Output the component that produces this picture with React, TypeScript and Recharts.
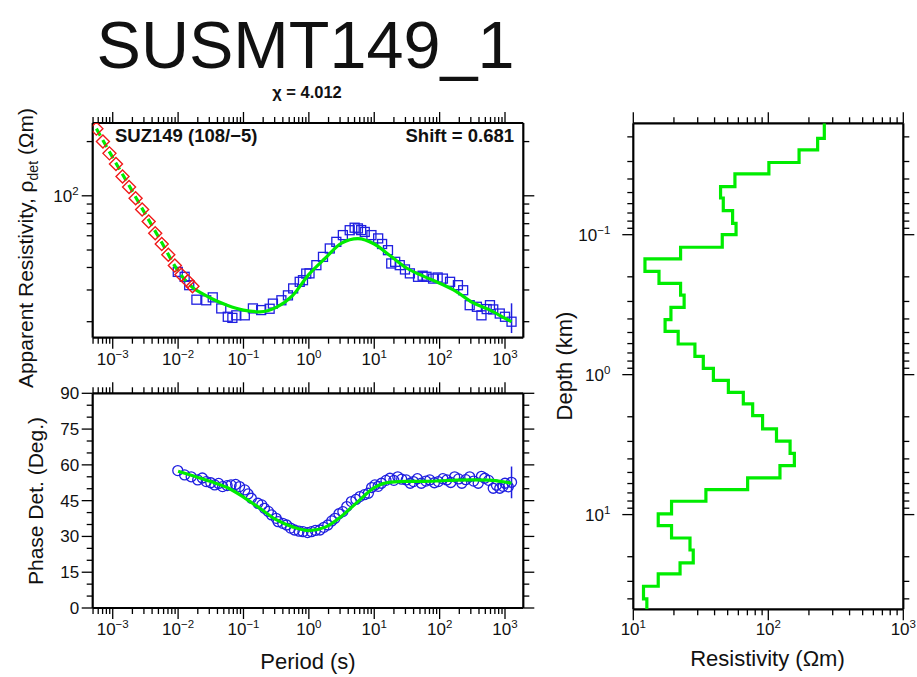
import React from "react";
import { ScatterChart, Scatter, XAxis, YAxis, ErrorBar } from "recharts";

const FONT = "'Liberation Sans', Arial, Helvetica, sans-serif";
const W = 917;
const H = 677;
const GREEN = "#00ec00";
const BLUE = "#1f1fe0";
const RED = "#f01a1a";
const MAJOR = 11;
const MINOR = 6;

// ---- axis ranges / tick labels ----
const periodDomain = [0.000494, 1905];
const periodDecades = [1e-4, 1e-3, 1e-2, 1e-1, 1, 10, 100, 1000];
const rhoDomain = [16.3, 253.6];
const rhoDecades = [10, 100];
const phaseDomain = [0, 90];
const phaseTicks = [0, 5, 10, 15, 20, 25, 30, 35, 40, 45, 50, 55, 60, 65, 70, 75, 80, 85, 90];
const resDomain = [10, 1000];
const resDecades = [10, 100, 1000];
const depthDomain = [0.016, 47.5];
const depthDecades = [0.01, 0.1, 1, 10];
const minorSteps = [1, 2, 3, 4, 5, 6, 7, 8, 9];

// ---- apparent resistivity: model response (log10 period, ohm-m) ----
const rhoFitLogT = [-3.25, -3.0, -2.75, -2.5, -2.25, -2.0, -1.75, -1.5, -1.25, -1.0, -0.75, -0.5, -0.25, 0, 0.25, 0.5, 0.75, 1.0, 1.25, 1.5, 1.75, 2.0, 2.25, 2.5, 2.75, 3.0, 3.1];
const rhoFit = [236, 163, 114, 79, 55, 38.2, 30.3, 27, 24.7, 23.2, 22.7, 24, 27.9, 36.6, 45, 54.6, 57.8, 54, 46.3, 39.6, 35.8, 32.7, 29.5, 25.6, 23.4, 20.9, 20];

// extrapolated short-period points (red diamonds)
const rhoExtLogT = [-3.25, -3.15, -3.05, -2.95, -2.85, -2.75, -2.65, -2.55, -2.45, -2.35, -2.25, -2.15, -2.05, -1.95, -1.85, -1.78];
const rhoExt = [236, 200, 172, 150, 128, 112, 97, 84, 72, 62, 54, 47, 41, 36.5, 33.5, 31.5];

// observed (blue squares)
const rhoObsLogT = [-2.005, -1.9, -1.83, -1.72, -1.57, -1.47, -1.34, -1.24, -1.17, -1.11, -0.98, -0.856, -0.73, -0.6, -0.55, -0.42, -0.32, -0.24, -0.14, -0.09, -0.04, 0.01, 0.115, 0.216, 0.32, 0.42, 0.52, 0.625, 0.7, 0.75, 0.8, 0.855, 0.957, 1.06, 1.12, 1.21, 1.26, 1.32, 1.39, 1.47, 1.545, 1.67, 1.74, 1.8, 1.9, 1.97, 2.05, 2.16, 2.28, 2.36, 2.46, 2.57, 2.64, 2.72, 2.77, 2.82, 2.92, 3.0, 3.1];
const rhoObs = [37.8, 35.5, 31.9, 26.5, 26.3, 27.3, 23.7, 21.3, 21.0, 21.7, 21.7, 23.7, 23.2, 23.6, 25.2, 26.3, 28, 30.6, 33.3, 34, 37, 37.1, 41.2, 45.8, 51, 55.5, 60.5, 64.4, 66.5, 65.9, 64.5, 63, 60.5, 58, 54, 49.9, 42.1, 43, 41.2, 39, 37.1, 35.5, 36, 35.5, 34.7, 35.2, 34.7, 33.3, 31.9, 29.9, 24.7, 24.2, 21.7, 23.5, 24.7, 23.4, 22.2, 21.3, 20];
const rhoLastErr = [2.7, 5.3];

// ---- phase ----
const phaseFitLogT = [-2.0, -1.75, -1.5, -1.25, -1.0, -0.75, -0.5, -0.25, 0, 0.25, 0.5, 0.75, 1.0, 1.25, 1.5, 1.75, 2.0, 2.25, 2.5, 2.75, 3.0, 3.1];
const phaseFit = [57.3, 55.2, 53, 50.5, 46.5, 41.8, 37, 34, 32.4, 33.9, 38.5, 44.6, 50.5, 52.8, 53.1, 53.1, 53.3, 53.6, 53.7, 53.6, 52.8, 52.3];

const phaseObsLogT = [-2.005, -1.9, -1.8, -1.7, -1.63, -1.57, -1.5, -1.44, -1.38, -1.32, -1.25, -1.19, -1.12, -1.06, -0.98, -0.93, -0.88, -0.78, -0.72, -0.68, -0.62, -0.57, -0.5, -0.47, -0.4, -0.34, -0.28, -0.22, -0.15, -0.09, -0.02, 0.04, 0.1, 0.17, 0.23, 0.29, 0.35, 0.4, 0.46, 0.52, 0.58, 0.65, 0.72, 0.78, 0.85, 0.91, 0.96, 1.01, 1.06, 1.11, 1.18, 1.24, 1.3, 1.36, 1.42, 1.49, 1.55, 1.6, 1.66, 1.72, 1.79, 1.85, 1.92, 1.98, 2.05, 2.11, 2.17, 2.23, 2.29, 2.34, 2.4, 2.46, 2.52, 2.59, 2.64, 2.69, 2.75, 2.82, 2.87, 2.92, 2.97, 3.0, 3.05, 3.1];
const phaseObs = [57.6, 55.8, 55, 53.7, 54.5, 53, 52.5, 51.6, 52.2, 50.9, 51.3, 51.6, 51.8, 50.9, 49.5, 47.8, 46, 43.9, 43.2, 41.8, 40.5, 39, 37.6, 36.2, 35.5, 34.8, 33.5, 32.7, 32.2, 32, 31.6, 32, 32.5, 32.7, 33.8, 34.8, 36.5, 37.6, 39.5, 40.4, 42.5, 44.6, 45.5, 46.7, 47.5, 48.1, 50.5, 51.6, 51, 52.3, 53.5, 54.4, 53.5, 55, 54, 53.7, 52.3, 53, 54.2, 52.3, 53.2, 53.7, 52.5, 53, 54.2, 53.7, 52.6, 55, 54.1, 52.3, 53.8, 55, 53.2, 52.3, 55.2, 54.4, 53.5, 50.2, 51.5, 50.2, 51, 52.3, 50.8, 52.7];
const phaseLastErr = [6.7, 6.6];

// ---- 1D model: layer resistivity (ohm-m) and layer boundaries (km) ----
const modelRho = [260, 232, 169, 101, 56.6, 44.3, 46.4, 54.4, 57.7, 45.6, 22.4, 12.2, 15.5, 22.4, 23.8, 19.0, 17.2, 21.5, 28.6, 33.0, 39.2, 50.6, 65.3, 76.6, 90.7, 115, 145, 156, 122, 70.3, 34.5, 19.2, 15.3, 19.2, 26.3, 27.8, 22.2, 15.3, 11.9, 12.6];
const modelBounds = [0.0205, 0.0248, 0.0305, 0.0368, 0.0454, 0.0547, 0.0674, 0.083, 0.1, 0.123, 0.149, 0.183, 0.223, 0.27, 0.331, 0.405, 0.491, 0.604, 0.74, 0.902, 1.1, 1.34, 1.62, 1.96, 2.44, 2.99, 3.65, 4.47, 5.47, 6.63, 8.03, 9.88, 12.0, 14.7, 17.9, 22.1, 26.5, 32.5, 40.0];

// ---- build point tables ----
const pts = (logT: number[], vals: number[]) => logT.map((t, i) => ({ x: Math.pow(10, t), y: vals[i] }));

const rhoFitDashed = pts(rhoFitLogT, rhoFit).filter((_, i) => rhoFitLogT[i] <= -1.75);
const rhoFitSolid = pts(rhoFitLogT, rhoFit).filter((_, i) => rhoFitLogT[i] >= -1.75);
const rhoExtPts = pts(rhoExtLogT, rhoExt);
const rhoObsPts = pts(rhoObsLogT, rhoObs);
const rhoErrPts = [{ ...rhoObsPts[rhoObsPts.length - 1], err: rhoLastErr }];

const phaseFitPts = pts(phaseFitLogT, phaseFit);
const phaseObsPts = pts(phaseObsLogT, phaseObs);
const phaseErrPts = [{ ...phaseObsPts[phaseObsPts.length - 1], err: phaseLastErr }];

const modelPts: { x: number; y: number }[] = [];
modelRho.forEach((r, i) => {
  const top = i === 0 ? depthDomain[0] : modelBounds[i - 1];
  const bot = i === modelRho.length - 1 ? depthDomain[1] : modelBounds[i];
  modelPts.push({ x: r, y: top }, { x: r, y: bot });
});

function logTicks(decades: number[], dom: number[]) {
  const out: number[] = [];
  decades.forEach((d) =>
    minorSteps.forEach((m) => {
      const v = +(d * m).toPrecision(6);
      if (v >= dom[0] * 0.999 && v <= dom[1] * 1.001) out.push(v);
    })
  );
  return out;
}

const periodTicks = logTicks(periodDecades, periodDomain);
const rhoTicks = logTicks(rhoDecades, rhoDomain);
const resTicks = logTicks(resDecades, resDomain);
const depthTicks = logTicks(depthDecades, depthDomain);

type Side = "top" | "bottom" | "left" | "right";
const dirs: Record<Side, [number, number]> = { top: [0, -1], bottom: [0, 1], left: [-1, 0], right: [1, 0] };
const expText = (e: number) => (e < 0 ? "\u2212" + Math.abs(e) : String(e));

function PowLabel({ x, y, e, anchor }: { x: number; y: number; e: number; anchor: string }) {
  return (
    <text x={x} y={y} textAnchor={anchor} fontFamily={FONT} fontSize={17} fill="#111">
      10<tspan dy={-7} fontSize={11.5}>{expText(e)}</tspan>
    </text>
  );
}

// custom tick: draws the outward tick mark and (for labelled sides) the label
function logTick(side: Side, labelOff = 0) {
  return (props: any) => {
    const { x, y, payload } = props;
    const lg = Math.log10(payload.value);
    const e = Math.round(lg);
    const major = Math.abs(lg - e) < 1e-6;
    const len = major ? MAJOR : MINOR;
    const [dx, dy] = dirs[side];
    return (
      <g>
        <line x1={x} y1={y} x2={x + dx * len} y2={y + dy * len} stroke="#000" strokeWidth={1.3} />
        {major && side === "bottom" && <PowLabel x={x} y={y + labelOff} e={e} anchor="middle" />}
        {major && side === "left" && <PowLabel x={x - labelOff} y={y + 6} e={e} anchor="end" />}
      </g>
    );
  };
}

function phaseTick(side: Side) {
  return (props: any) => {
    const { x, y, payload } = props;
    const v = payload.value;
    const major = v % 15 === 0;
    const len = major ? MAJOR : MINOR;
    const [dx, dy] = dirs[side];
    return (
      <g>
        <line x1={x} y1={y} x2={x + dx * len} y2={y + dy * len} stroke="#000" strokeWidth={1.3} />
        {major && side === "left" && (
          <text x={x - 13.5} y={y + 6} textAnchor="end" fontFamily={FONT} fontSize={17} fill="#111">
            {v}
          </text>
        )}
      </g>
    );
  };
}

const frame = { stroke: "#000", strokeWidth: 2.2 };
const noShape = () => <g />;

const Diamond = (p: any) => (
  <path
    d={`M${p.cx},${p.cy - 6.5}L${p.cx + 6.5},${p.cy}L${p.cx},${p.cy + 6.5}L${p.cx - 6.5},${p.cy}Z`}
    fill="none"
    stroke={RED}
    strokeWidth={1.4}
  />
);
const Square = (p: any) => (
  <rect x={p.cx - 4.5} y={p.cy - 4.5} width={9} height={9} fill="none" stroke={BLUE} strokeWidth={1.3} />
);
const Ring = (p: any) => <circle cx={p.cx} cy={p.cy} r={5} fill="none" stroke={BLUE} strokeWidth={1.3} />;

const layer: React.CSSProperties = { position: "absolute", left: 0, top: 0 };

function RhoChart() {
  return (
    <div style={layer}>
      <ScatterChart width={W} height={H} margin={{ left: 82.7, right: 383.7, top: 113, bottom: 329.3 }}>
        <XAxis xAxisId="b" orientation="bottom" type="number" dataKey="x" scale="log" domain={periodDomain} allowDataOverflow ticks={periodTicks} interval={0} height={10} tickSize={0} tickMargin={0} axisLine={frame} tickLine={false} tick={logTick("bottom", 27)} />
        <XAxis xAxisId="t" orientation="top" type="number" dataKey="x" scale="log" domain={periodDomain} allowDataOverflow ticks={periodTicks} interval={0} height={10} tickSize={0} tickMargin={0} axisLine={frame} tickLine={false} tick={logTick("top")} />
        <YAxis yAxisId="l" orientation="left" type="number" dataKey="y" scale="log" domain={rhoDomain} allowDataOverflow ticks={rhoTicks} interval={0} width={10} tickSize={0} tickMargin={0} axisLine={frame} tickLine={false} tick={logTick("left", 14)} />
        <YAxis yAxisId="r" orientation="right" type="number" dataKey="y" scale="log" domain={rhoDomain} allowDataOverflow ticks={rhoTicks} interval={0} width={10} tickSize={0} tickMargin={0} axisLine={frame} tickLine={false} tick={logTick("right")} />
        <Scatter xAxisId="b" yAxisId="l" data={rhoObsPts} shape={Square} isAnimationActive={false} />
        <Scatter xAxisId="b" yAxisId="l" data={rhoErrPts} shape={noShape} isAnimationActive={false}>
          <ErrorBar dataKey="err" direction="y" width={0} stroke={BLUE} strokeWidth={1.5} isAnimationActive={false} />
        </Scatter>
        <Scatter xAxisId="b" yAxisId="l" data={rhoFitSolid} shape={noShape} line={{ stroke: GREEN, strokeWidth: 3.2 }} lineJointType="monotoneX" isAnimationActive={false} />
        <Scatter xAxisId="b" yAxisId="l" data={rhoFitDashed} shape={noShape} line={{ stroke: GREEN, strokeWidth: 3.2, strokeDasharray: "8 5" }} lineJointType="monotoneX" isAnimationActive={false} />
        <Scatter xAxisId="b" yAxisId="l" data={rhoExtPts} shape={Diamond} isAnimationActive={false} />
      </ScatterChart>
    </div>
  );
}

function PhaseChart() {
  return (
    <div style={layer}>
      <ScatterChart width={W} height={H} margin={{ left: 82.7, right: 383.7, top: 383.3, bottom: 59 }}>
        <XAxis xAxisId="b" orientation="bottom" type="number" dataKey="x" scale="log" domain={periodDomain} allowDataOverflow ticks={periodTicks} interval={0} height={10} tickSize={0} tickMargin={0} axisLine={frame} tickLine={false} tick={logTick("bottom", 27)} />
        <XAxis xAxisId="t" orientation="top" type="number" dataKey="x" scale="log" domain={periodDomain} allowDataOverflow ticks={periodTicks} interval={0} height={10} tickSize={0} tickMargin={0} axisLine={frame} tickLine={false} tick={logTick("top")} />
        <YAxis yAxisId="l" orientation="left" type="number" dataKey="y" domain={phaseDomain} allowDataOverflow ticks={phaseTicks} interval={0} width={10} tickSize={0} tickMargin={0} axisLine={frame} tickLine={false} tick={phaseTick("left")} />
        <YAxis yAxisId="r" orientation="right" type="number" dataKey="y" domain={phaseDomain} allowDataOverflow ticks={phaseTicks} interval={0} width={10} tickSize={0} tickMargin={0} axisLine={frame} tickLine={false} tick={phaseTick("right")} />
        <Scatter xAxisId="b" yAxisId="l" data={phaseObsPts} shape={Ring} isAnimationActive={false} />
        <Scatter xAxisId="b" yAxisId="l" data={phaseErrPts} shape={noShape} isAnimationActive={false}>
          <ErrorBar dataKey="err" direction="y" width={0} stroke={BLUE} strokeWidth={1.5} isAnimationActive={false} />
        </Scatter>
        <Scatter xAxisId="b" yAxisId="l" data={phaseFitPts} shape={noShape} line={{ stroke: GREEN, strokeWidth: 3.2 }} lineJointType="monotoneX" isAnimationActive={false} />
      </ScatterChart>
    </div>
  );
}

function ModelChart() {
  return (
    <div style={layer}>
      <ScatterChart width={W} height={H} margin={{ left: 623.3, right: 3.7, top: 113.3, bottom: 57.7 }}>
        <XAxis xAxisId="b" orientation="bottom" type="number" dataKey="x" scale="log" domain={resDomain} allowDataOverflow ticks={resTicks} interval={0} height={10} tickSize={0} tickMargin={0} axisLine={frame} tickLine={false} tick={logTick("bottom", 26)} />
        <XAxis xAxisId="t" orientation="top" type="number" dataKey="x" scale="log" domain={resDomain} allowDataOverflow ticks={resTicks} interval={0} height={10} tickSize={0} tickMargin={0} axisLine={frame} tickLine={false} tick={logTick("top")} />
        <YAxis yAxisId="l" orientation="left" type="number" dataKey="y" scale="log" reversed domain={depthDomain} allowDataOverflow ticks={depthTicks} interval={0} width={10} tickSize={0} tickMargin={0} axisLine={frame} tickLine={false} tick={logTick("left", 23)} />
        <YAxis yAxisId="r" orientation="right" type="number" dataKey="y" scale="log" reversed domain={depthDomain} allowDataOverflow ticks={depthTicks} interval={0} width={10} tickSize={0} tickMargin={0} axisLine={frame} tickLine={false} tick={logTick("right")} />
        <Scatter xAxisId="b" yAxisId="l" data={modelPts} shape={noShape} line={{ stroke: GREEN, strokeWidth: 3.2 }} isAnimationActive={false} />
      </ScatterChart>
    </div>
  );
}

function Labels() {
  return (
    <svg width={W} height={H} style={layer} fontFamily={FONT} fill="#111">
      <text x={96.5} y={68} fontSize={67} textLength={418} lengthAdjust="spacingAndGlyphs">
        SUSMT149_1
      </text>
      <text x={307} y={98} fontSize={16.5} fontWeight="bold" textAnchor="middle">
        χ = 4.012
      </text>
      <text x={115} y={142} fontSize={18.5} fontWeight="bold">
        SUZ149 (108/−5)
      </text>
      <text x={514} y={142} fontSize={18.5} fontWeight="bold" textAnchor="end">
        Shift = 0.681
      </text>
      <text transform="translate(33,248) rotate(-90)" textAnchor="middle" fontSize={21}>
        Apparent Resistivity, ρ<tspan dy={5} fontSize={14}>det</tspan>
        <tspan dy={-5}> (Ωm)</tspan>
      </text>
      <text transform="translate(43,501) rotate(-90)" textAnchor="middle" fontSize={21}>
        Phase Det. (Deg.)
      </text>
      <text x={308} y={669} textAnchor="middle" fontSize={22}>
        Period (s)
      </text>
      <text transform="translate(572,366) rotate(-90)" textAnchor="middle" fontSize={22}>
        Depth (km)
      </text>
      <text x={767.5} y={666} textAnchor="middle" fontSize={22}>
        Resistivity (Ωm)
      </text>
    </svg>
  );
}

export default function App() {
  return (
    <div style={{ position: "absolute", left: 0, top: 0, width: W, height: H, background: "#fff", overflow: "hidden" }}>
      <RhoChart />
      <PhaseChart />
      <ModelChart />
      <Labels />
    </div>
  );
}
